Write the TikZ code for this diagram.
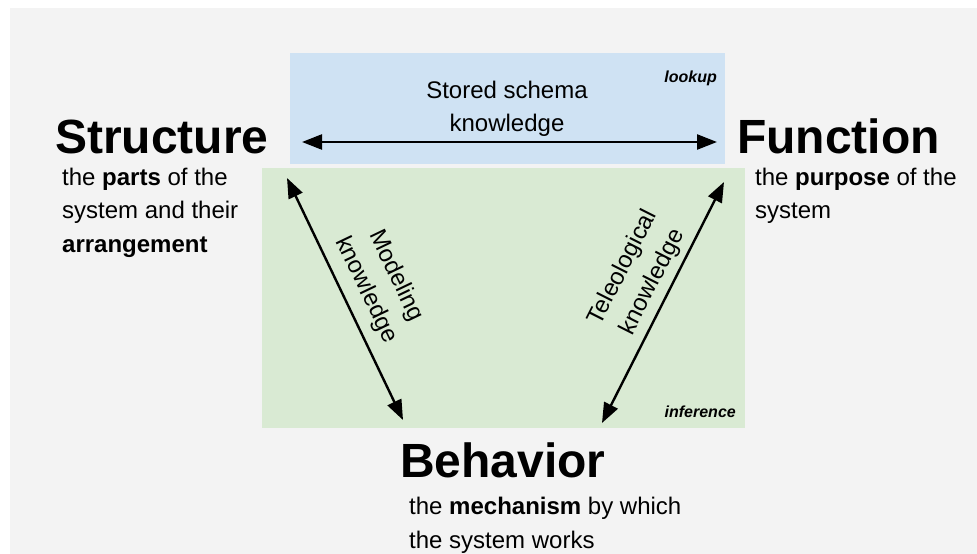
\documentclass[tikz,border=0pt]{standalone}
\usepackage{fontspec}
\setmainfont{Liberation Sans}
\usetikzlibrary{arrows.meta}
\definecolor{pagebg}{HTML}{F3F3F3}
\definecolor{lookupfill}{HTML}{CFE2F3}
\definecolor{inferfill}{HTML}{D9EAD3}
\begin{document}
\begin{tikzpicture}[x=1pt,y=-1pt,
  title/.style={inner sep=0pt,anchor=base west,font=\fontsize{48}{50}\selectfont\bfseries},
  desc/.style={inner sep=0pt,anchor=base west,align=left,font=\fontsize{24}{33.5}\selectfont},
  tag/.style={inner sep=0pt,anchor=base east,font=\fontsize{16}{18}\selectfont\bfseries\itshape},
  lbl/.style={inner sep=0pt,align=center,font=\fontsize{24}{33}\selectfont},
  link/.style={line width=2.4pt,{Triangle[length=20pt,width=15pt]}-{Triangle[length=20pt,width=15pt]}}]
\useasboundingbox (0,0) rectangle (977,554);
\fill[white] (0,0) rectangle (977,554);
\fill[pagebg] (10,8) rectangle (977,554);

% regions
\fill[lookupfill] (290,53) rectangle (725,164);
\fill[inferfill] (262,168) rectangle (745,428);
\node[tag] (lookup) at (717,82) {lookup};
\node[tag] (inference) at (736,417) {inference};

% the three concepts (desc nodes are anchored at the baseline of their last line)
\node[title] (structure) at (55,153) {Structure};
\node[desc] (structdesc) at (62,252) {the \textbf{parts} of the\\system and their\\\textbf{arrangement}};
\node[title] (function) at (737,153) {Function};
\node[desc] (funcdesc) at (755,218.5) {the \textbf{purpose} of the\\system};
\node[title] (behavior) at (400,477) {Behavior};
\node[desc] (behavdesc) at (409,548) {the \textbf{mechanism} by which\\the system works};

% arrow end points
\coordinate (sf1) at (302,142);
\coordinate (sf2) at (717,142);
\coordinate (sb1) at (287,178);
\coordinate (sb2) at (403,420);
\coordinate (fb1) at (724,182);
\coordinate (fb2) at (602,423);

\draw[link] (sf1) -- (sf2);
\draw[link] (sb1) -- (sb2);
\draw[link] (fb2) -- (fb1);

% knowledge labels
\node[lbl] (stored) at (507,109) {Stored schema\\knowledge};
\node[lbl,rotate=-64.4] (modeling) at (381,283) {Modeling\\knowledge};
\node[lbl,rotate=63.2] (teleo) at (638,275) {Teleological\\knowledge};
\end{tikzpicture}
\end{document}
